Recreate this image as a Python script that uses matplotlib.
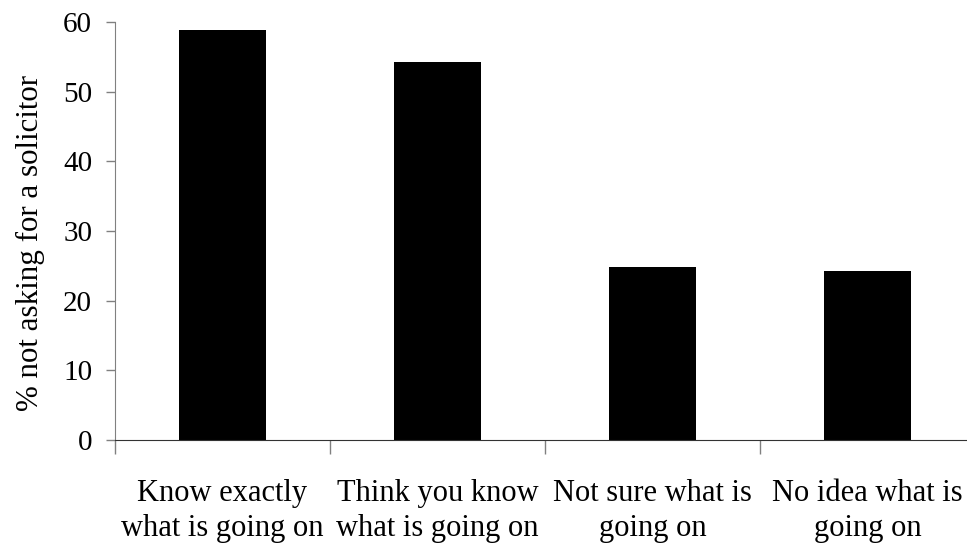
import matplotlib.pyplot as plt
import numpy as np

categories = ["Know exactly\nwhat is going on", "Think you know\nwhat is going on",
              "Not sure what is\ngoing on", "No idea what is\ngoing on"]
values = [58.9, 54.3, 24.8, 24.3]
yticks = [0, 10, 20, 30, 40, 50, 60]

plt.rcParams['font.family'] = ['Liberation Serif', 'DejaVu Serif']

fig = plt.figure(figsize=(9.67, 5.52), dpi=100)
ax = fig.add_axes([115 / 967, 112 / 552, 860 / 967, 418 / 552])

x = np.arange(len(categories))
ax.bar(x, values, width=0.405, color='black')

ax.set_xlim(-0.5, len(categories) - 0.5)
ax.set_ylim(0, 60)
ax.set_yticks(yticks)
ax.tick_params(axis='y', direction='out', length=6.5, width=1, color='#808080',
               labelsize=21, pad=10)

# category boundaries as major ticks, labels on minor ticks
ax.set_xticks(np.arange(-0.5, len(categories), 1.0))
ax.set_xticklabels([])
ax.tick_params(axis='x', which='major', direction='out', length=10, width=1, color='#808080')
ax.set_xticks(x, minor=True)
ax.set_xticklabels(categories, minor=True, linespacing=1.3)
ax.tick_params(axis='x', which='minor', length=0, labelsize=22, pad=28)

for s in ['top', 'right']:
    ax.spines[s].set_visible(False)
ax.spines['left'].set_color('#808080')
ax.spines['bottom'].set_color('#333333')

ax.set_ylabel("% not asking for a solicitor", fontsize=22.3)
ax.yaxis.set_label_coords(-0.081, 0.471)

fig.savefig("out.png", dpi=100)
